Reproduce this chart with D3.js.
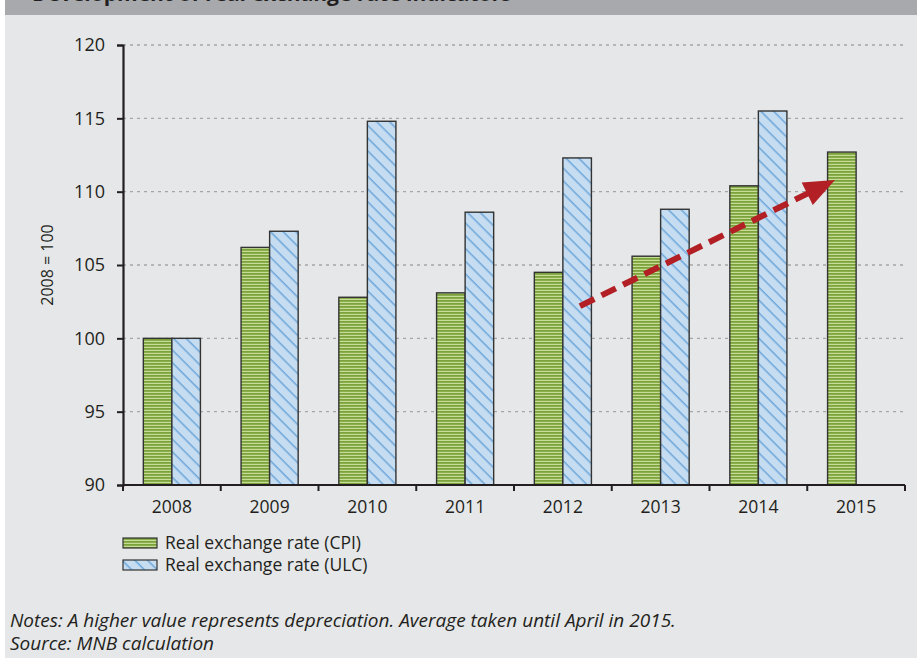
<!DOCTYPE html>
<html>
<head>
<meta charset="utf-8">
<script src="https://cdn.jsdelivr.net/npm/d3@7"></script>
<style>
  body { margin: 0; background: #fff; }
  svg { display: block; }
  text { font-family: "Open Sans", sans-serif; fill: #231f20; }
</style>
</head>
<body>
<div id="chart"></div>
<script>
const years = ['2008', '2009', '2010', '2011', '2012', '2013', '2014', '2015']
const cpiValues = [100, 106.2, 102.8, 103.1, 104.5, 105.6, 110.4, 112.7]
const ulcValues = [100, 107.3, 114.8, 108.6, 112.3, 108.8, 115.5, null]
const yTicks = [90, 95, 100, 105, 110, 115, 120]
const seriesNames = ['Real exchange rate (CPI)', 'Real exchange rate (ULC)']
// trend arrow: year band + fraction inside band, value
const arrowFrom = { year: '2012', pos: 0.675, value: 102.2 }
const arrowTo = { year: '2015', pos: 0.284, value: 110.8 }

const config = {
    width: 917,
    height: 658,
    margin: { left: 123, top: 45, right: 12, bottom: 173 },
}
const chart = {
    width: config.width - config.margin.left - config.margin.right,
    height: config.height - config.margin.top - config.margin.bottom,
}

const svg = d3.select('#chart')
    .append('svg')
    .attr('width', config.width)
    .attr('height', config.height)

// background + cut title bar
svg.append('rect').attr('x', 5).attr('y', 0).attr('width', config.width - 5).attr('height', config.height).attr('fill', '#e6e7e8')
svg.append('rect').attr('x', 5).attr('y', 0).attr('width', config.width - 5).attr('height', 15).attr('fill', '#a7a9ac')
svg.append('text')
    .attr('x', 32).attr('y', 1)
    .attr('font-size', '21px').attr('font-weight', 'bold')
    .text('Development of real exchange rate indicators')

const defs = svg.append('defs')
const cpiPat = defs.append('pattern')
    .attr('id', 'cpi').attr('patternUnits', 'userSpaceOnUse')
    .attr('width', 6).attr('height', 3)
cpiPat.append('rect').attr('width', 6).attr('height', 3).attr('fill', '#c6dc97')
cpiPat.append('rect').attr('width', 6).attr('height', 1.8).attr('fill', '#7ca33b')

const ulcPat = defs.append('pattern')
    .attr('id', 'ulc').attr('patternUnits', 'userSpaceOnUse')
    .attr('width', 9).attr('height', 9)
    .attr('patternTransform', 'rotate(45)')
ulcPat.append('rect').attr('width', 9).attr('height', 9).attr('fill', '#c6dcf1')
ulcPat.append('rect').attr('width', 9).attr('height', 1.5).attr('fill', '#6da7d9')

const root = svg.append('g')
    .attr('transform', `translate(${config.margin.left}, ${config.margin.top})`)

const scaleX = d3.scaleBand().domain(years).range([0, chart.width])
const scaleY = d3.scaleLinear().domain([90, 120]).range([chart.height, 0])
const barW = scaleX.bandwidth() * 0.292

// gridlines
root.append('g')
    .selectAll('line')
    .data(yTicks.filter(t => t > 90))
    .join('line')
    .attr('x1', 0).attr('x2', chart.width)
    .attr('y1', d => scaleY(d)).attr('y2', d => scaleY(d))
    .attr('stroke', '#a6a6a6').attr('stroke-width', 1.3)
    .attr('stroke-dasharray', '3,4')

const rows = years.map((y, i) => ({ year: y, cpi: cpiValues[i], ulc: ulcValues[i] }))

root.append('g')
    .selectAll('rect')
    .data(rows)
    .join('rect')
    .attr('x', d => scaleX(d.year) + scaleX.bandwidth() / 2 - barW)
    .attr('y', d => scaleY(d.cpi))
    .attr('width', barW)
    .attr('height', d => chart.height - scaleY(d.cpi))
    .attr('fill', 'url(#cpi)')
    .attr('stroke', '#333').attr('stroke-width', 1.4)

root.append('g')
    .selectAll('rect')
    .data(rows.filter(d => d.ulc != null))
    .join('rect')
    .attr('x', d => scaleX(d.year) + scaleX.bandwidth() / 2)
    .attr('y', d => scaleY(d.ulc))
    .attr('width', barW)
    .attr('height', d => chart.height - scaleY(d.ulc))
    .attr('fill', 'url(#ulc)')
    .attr('stroke', '#333').attr('stroke-width', 1.4)

// axes
const yAxis = root.append('g')
    .call(d3.axisLeft(scaleY).tickValues(yTicks).tickSize(6).tickPadding(12))
yAxis.select('.domain').attr('stroke', '#231f20').attr('stroke-width', 2.2)
yAxis.selectAll('.tick line').attr('stroke', '#231f20').attr('stroke-width', 2)
yAxis.selectAll('.tick text').attr('font-size', '18px').attr('font-family', 'Open Sans').attr('fill', '#231f20')

const xAxis = root.append('g')
    .attr('transform', `translate(0, ${chart.height})`)
const xTickPos = years.map(y => scaleX(y)).concat([chart.width])
xAxis.append('line')
    .attr('x1', 0).attr('x2', chart.width)
    .attr('stroke', '#231f20').attr('stroke-width', 2.2)
xAxis.selectAll('.xt')
    .data(xTickPos)
    .join('line')
    .attr('class', 'xt')
    .attr('x1', d => d).attr('x2', d => d)
    .attr('y1', 0).attr('y2', 6)
    .attr('stroke', '#231f20').attr('stroke-width', 2)
xAxis.selectAll('.xl')
    .data(years)
    .join('text')
    .attr('class', 'xl')
    .attr('x', d => scaleX(d) + scaleX.bandwidth() / 2)
    .attr('y', 28)
    .attr('text-anchor', 'middle')
    .attr('font-size', '17.5px')
    .text(d => d)

root.append('text')
    .attr('transform', `translate(-70, ${chart.height / 2}) rotate(-90)`)
    .attr('text-anchor', 'middle')
    .attr('font-size', '16px')
    .text('2008 = 100')

// trend arrow
const ax = p => scaleX(p.year) + scaleX.bandwidth() * p.pos
const x1 = ax(arrowFrom), y1 = scaleY(arrowFrom.value)
const x2 = ax(arrowTo), y2 = scaleY(arrowTo.value)
const ang = Math.atan2(y2 - y1, x2 - x1)
const headLen = 31, headHalf = 12.5
const bx = x2 - headLen * Math.cos(ang), by = y2 - headLen * Math.sin(ang)
root.append('line')
    .attr('x1', x1).attr('y1', y1).attr('x2', bx + 4 * Math.cos(ang)).attr('y2', by + 4 * Math.sin(ang))
    .attr('stroke', '#b21f24').attr('stroke-width', 6)
    .attr('stroke-dasharray', '16,8')
root.append('path')
    .attr('d', d3.line()([
        [x2, y2],
        [bx + headHalf * Math.sin(ang), by - headHalf * Math.cos(ang)],
        [bx - headHalf * Math.sin(ang), by + headHalf * Math.cos(ang)],
    ]) + 'Z')
    .attr('fill', '#b21f24')

// legend
const legend = svg.append('g').attr('transform', 'translate(123, 538)')
const items = legend.selectAll('g')
    .data(seriesNames)
    .join('g')
    .attr('transform', (d, i) => `translate(0, ${i * 22})`)
items.append('rect')
    .attr('width', 34).attr('height', 10)
    .attr('fill', (d, i) => i === 0 ? 'url(#cpi)' : 'url(#ulc)')
    .attr('stroke', '#333').attr('stroke-width', 1.2)
items.append('text')
    .attr('x', 42).attr('y', 11)
    .attr('font-size', '17.5px')
    .text(d => d)

// notes
svg.append('text')
    .attr('x', 10).attr('y', 627)
    .attr('font-size', '19px').attr('font-style', 'italic')
    .text('Notes: A higher value represents depreciation. Average taken until April in 2015.')
svg.append('text')
    .attr('x', 10).attr('y', 650)
    .attr('font-size', '19px').attr('font-style', 'italic')
    .text('Source: MNB calculation')
</script>
</body>
</html>
